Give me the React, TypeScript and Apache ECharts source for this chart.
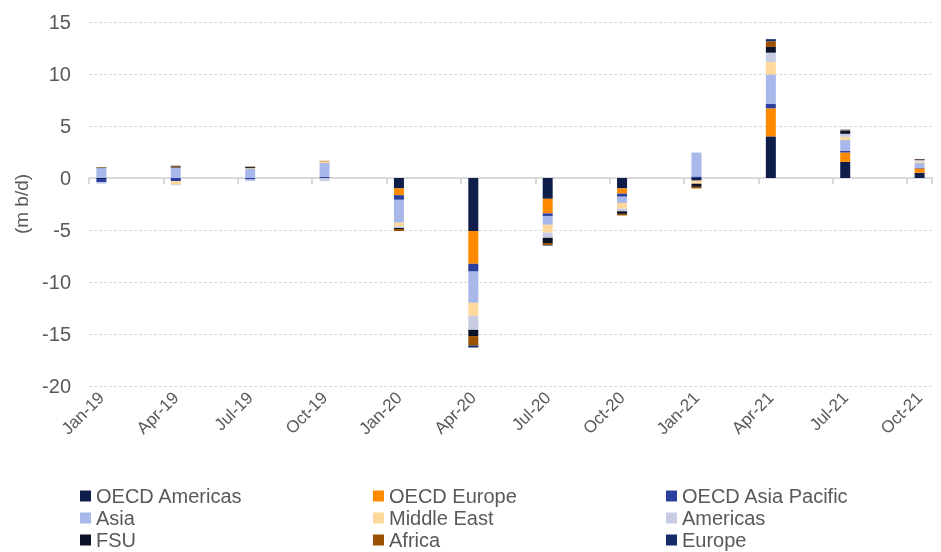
import React, { useEffect, useRef } from "react";
import * as echarts from "echarts";

const months = [
  "Jan-19", "Feb-19", "Mar-19", "Apr-19", "May-19", "Jun-19", "Jul-19", "Aug-19", "Sep-19", "Oct-19", "Nov-19", "Dec-19",
  "Jan-20", "Feb-20", "Mar-20", "Apr-20", "May-20", "Jun-20", "Jul-20", "Aug-20", "Sep-20", "Oct-20", "Nov-20", "Dec-20",
  "Jan-21", "Feb-21", "Mar-21", "Apr-21", "May-21", "Jun-21", "Jul-21", "Aug-21", "Sep-21", "Oct-21",
];

// quarterly values (Jan-19, Apr-19, ..., Oct-21)
const oecdAmericas = [-0.1, 0, 0, 0, -1.0, -5.1, -2.0, -1.0, -0.25, 4.0, 1.55, 0.5];
const oecdEurope = [0, 0, 0, 0, -0.65, -3.15, -1.4, -0.5, 0, 2.7, 0.9, 0.42];
const oecdAsiaPacific = [-0.3, -0.3, -0.15, 0.1, -0.45, -0.75, -0.25, -0.3, 0.15, 0.45, 0.15, 0.05];
const asia = [0.95, 1.0, 0.9, 1.35, -2.2, -3.0, -0.85, -0.6, 2.3, 2.8, 1.05, 0.5];
const middleEast = [0, -0.3, 0.05, 0.15, -0.35, -1.25, -0.75, -0.55, -0.3, 1.2, 0.3, 0.13];
const americas = [-0.15, -0.1, -0.15, -0.3, -0.15, -1.35, -0.5, -0.25, 0, 0.9, 0.3, 0.12];
const fsu = [0.05, 0.05, 0.1, 0, -0.1, -0.6, -0.5, -0.25, -0.3, 0.55, 0.3, 0.08];
const africa = [0.05, 0.1, 0.05, 0.05, -0.2, -0.9, -0.2, -0.15, -0.15, 0.55, 0.05, 0.03];
const europe = [0, 0.03, 0, 0, 0, -0.2, -0.05, 0, 0, 0.2, 0.05, 0];

const seriesNames = [
  "OECD Americas", "OECD Europe", "OECD Asia Pacific",
  "Asia", "Middle East", "Americas",
  "FSU", "Africa", "Europe",
];
const seriesData = [oecdAmericas, oecdEurope, oecdAsiaPacific, asia, middleEast, americas, fsu, africa, europe];
const colors = ["#0f1d4a", "#ff8a00", "#2b409e", "#a9b8ea", "#ffd89b", "#c9cde3", "#0b1126", "#9a5200", "#172a6a"];

const yTicks = { min: -20, max: 15, interval: 5 };

const FONT = "'Liberation Sans', Arial, sans-serif";

function expand(q: number[]) {
  return months.map((_, i) => (i % 3 === 0 ? q[i / 3] : "-"));
}

export default function App() {
  const ref = useRef<HTMLDivElement>(null);
  useEffect(() => {
    if (!ref.current) return;
    const chart = echarts.init(ref.current, undefined, { renderer: "svg" });
    chart.setOption({
      animation: false,
      color: colors,
      textStyle: { fontFamily: FONT },
      grid: { left: 89, right: 9, top: 22, bottom: 166, containLabel: false },
      legend: {
        left: 80,
        top: 485,
        width: 900,
        itemWidth: 11,
        itemHeight: 11,
        itemGap: 0,
        icon: "rect",
        padding: 0,
        textStyle: { fontSize: 20, color: "#595959", width: 277, lineHeight: 22, fontFamily: FONT },
        data: seriesNames,
      },
      xAxis: [
        {
          type: "category",
          data: months,
          position: "bottom",
          axisLine: { show: false, onZero: false },
          axisTick: { show: false },
          axisLabel: { interval: 2, rotate: 45, fontSize: 17, color: "#595959", margin: 9, fontFamily: FONT },
        },
        {
          type: "category",
          data: months,
          position: "bottom",
          axisLine: { show: true, onZero: true, lineStyle: { color: "#d9d9d9", width: 2 } },
          axisTick: { show: true, interval: 2, length: 6, lineStyle: { color: "#d9d9d9", width: 2 } },
          axisLabel: { show: false },
        },
      ],
      yAxis: {
        type: "value",
        min: yTicks.min,
        max: yTicks.max,
        interval: yTicks.interval,
        name: "(m b/d)",
        nameLocation: "middle",
        nameGap: 58,
        nameTextStyle: { fontSize: 19, color: "#595959", fontFamily: FONT },
        axisLine: { show: false },
        axisTick: { show: false },
        axisLabel: { fontSize: 20, color: "#595959", margin: 18, fontFamily: FONT },
        splitLine: { lineStyle: { color: "#d9d9d9", type: [3, 2], width: 1 } },
      },
      series: seriesNames.map((name, i) => ({
        name,
        type: "bar",
        stack: "total",
        xAxisIndex: 0,
        barWidth: 10,
        data: expand(seriesData[i]),
        itemStyle: { color: colors[i] },
      })),
    });
    return () => chart.dispose();
  }, []);
  return <div ref={ref} style={{ width: 941, height: 552, position: "fixed", left: 0, top: 0 }} />;
}
